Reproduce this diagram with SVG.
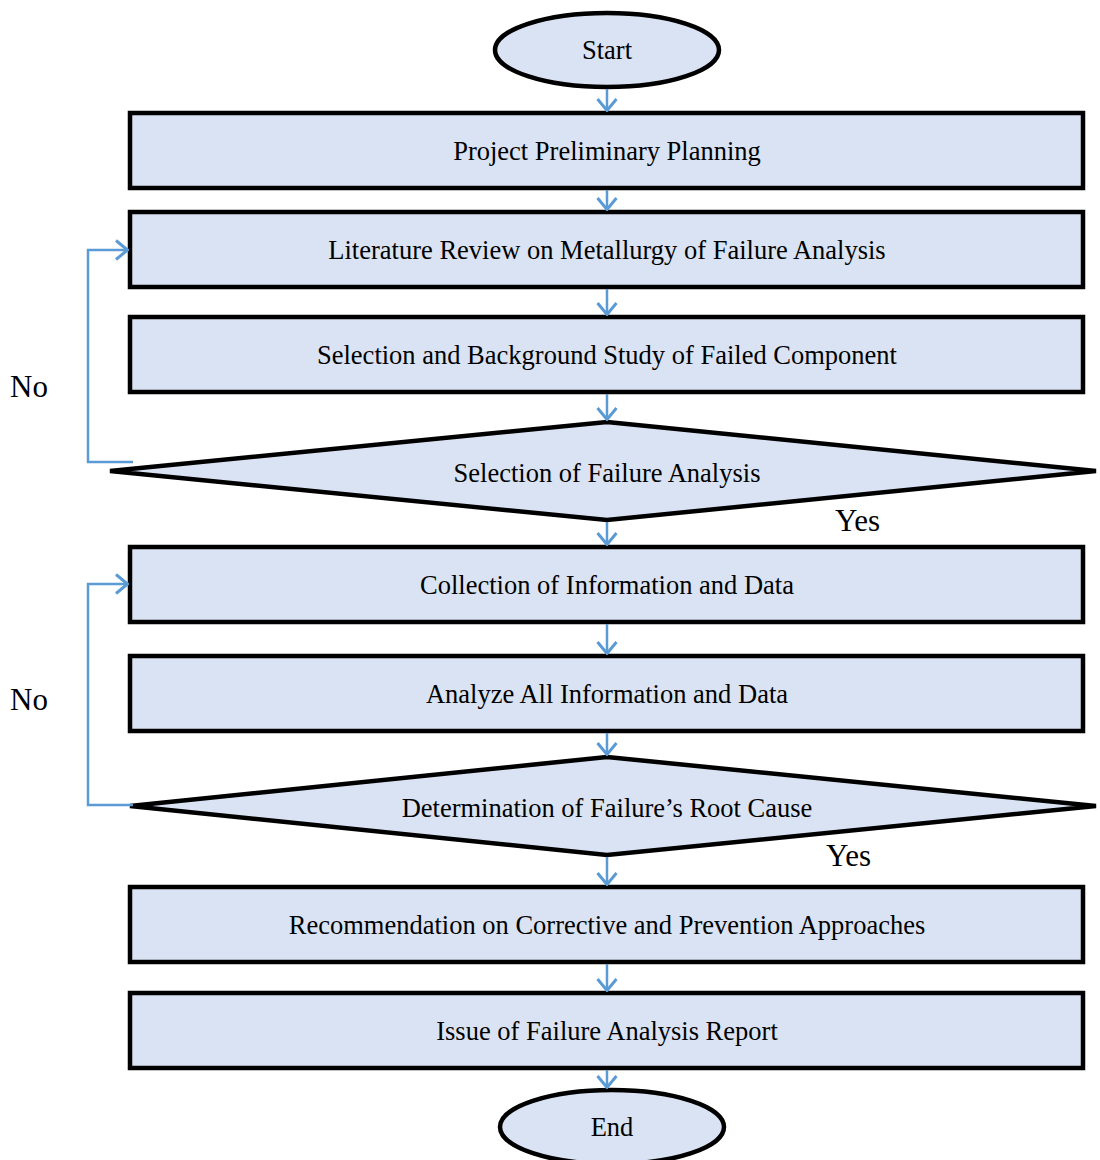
<svg xmlns="http://www.w3.org/2000/svg" width="1100" height="1160" viewBox="0 0 1100 1160">
<defs>
<marker id="arr" viewBox="0 0 14 22" refX="13" refY="11" markerWidth="14" markerHeight="22" markerUnits="userSpaceOnUse" orient="auto">
<path d="M1,1.5 L12.5,11 L1,20.5" fill="none" stroke="#5B9BD5" stroke-width="3"/>
</marker>
<style>
.box{fill:#DAE3F3;stroke:#000;stroke-width:4.5}
.t{font-family:"Liberation Serif","Times New Roman",serif;font-size:26.5px;fill:#000;text-anchor:middle}
.lbl{font-family:"Liberation Serif","Times New Roman",serif;font-size:31px;fill:#000}
.c{fill:none;stroke:#5B9BD5;stroke-width:2.5}
</style>
</defs>
<rect width="1100" height="1160" fill="#fff"/>
<g id="start"><ellipse class="box" cx="607" cy="50" rx="112" ry="37"/><text class="t" x="607" y="59">Start</text></g>
<g id="n1"><rect class="box" x="130" y="113" width="953" height="75"/><text class="t" x="607" y="160">Project Preliminary Planning</text></g>
<g id="n2"><rect class="box" x="130" y="212" width="953" height="75"/><text class="t" x="607" y="259">Literature Review on Metallurgy of Failure Analysis</text></g>
<g id="n3"><rect class="box" x="130" y="317" width="953" height="75"/><text class="t" x="607" y="364">Selection and Background Study of Failed Component</text></g>
<g id="d1"><polygon class="box" points="607,422 1096,471 607,520 110,471"/><text class="t" x="607" y="482">Selection of Failure Analysis</text></g>
<g id="n4"><rect class="box" x="130" y="547" width="953" height="75"/><text class="t" x="607" y="594">Collection of Information and Data</text></g>
<g id="n5"><rect class="box" x="130" y="656" width="953" height="75"/><text class="t" x="607" y="703">Analyze All Information and Data</text></g>
<g id="d2"><polygon class="box" points="607,757 1096,806 607,855 130,806"/><text class="t" x="607" y="817">Determination of Failure’s Root Cause</text></g>
<g id="n6"><rect class="box" x="130" y="887" width="953" height="75"/><text class="t" x="607" y="934">Recommendation on Corrective and Prevention Approaches</text></g>
<g id="n7"><rect class="box" x="130" y="993" width="953" height="75"/><text class="t" x="607" y="1040">Issue of Failure Analysis Report</text></g>
<g id="end"><ellipse class="box" cx="612" cy="1127" rx="112" ry="37"/><text class="t" x="612" y="1136">End</text></g>
<g id="connectors">
<line class="c" x1="607" y1="89" x2="607" y2="111" marker-end="url(#arr)"/>
<line class="c" x1="607" y1="190" x2="607" y2="210" marker-end="url(#arr)"/>
<line class="c" x1="607" y1="289" x2="607" y2="315" marker-end="url(#arr)"/>
<line class="c" x1="607" y1="394" x2="607" y2="420" marker-end="url(#arr)"/>
<line class="c" x1="607" y1="522" x2="607" y2="545" marker-end="url(#arr)"/>
<line class="c" x1="607" y1="624" x2="607" y2="654" marker-end="url(#arr)"/>
<line class="c" x1="607" y1="733" x2="607" y2="755" marker-end="url(#arr)"/>
<line class="c" x1="607" y1="857" x2="607" y2="885" marker-end="url(#arr)"/>
<line class="c" x1="607" y1="964" x2="607" y2="991" marker-end="url(#arr)"/>
<line class="c" x1="607" y1="1070" x2="607" y2="1088" marker-end="url(#arr)"/>
<polyline class="c" points="133,462 88,462 88,250 128,250" marker-end="url(#arr)"/>
<polyline class="c" points="133,805 88,805 88,584 128,584" marker-end="url(#arr)"/>
<text class="lbl" x="10" y="397">No</text>
<text class="lbl" x="10" y="710">No</text>
<text class="lbl" x="835" y="531">Yes</text>
<text class="lbl" x="826" y="866">Yes</text>
</g>
</svg>
